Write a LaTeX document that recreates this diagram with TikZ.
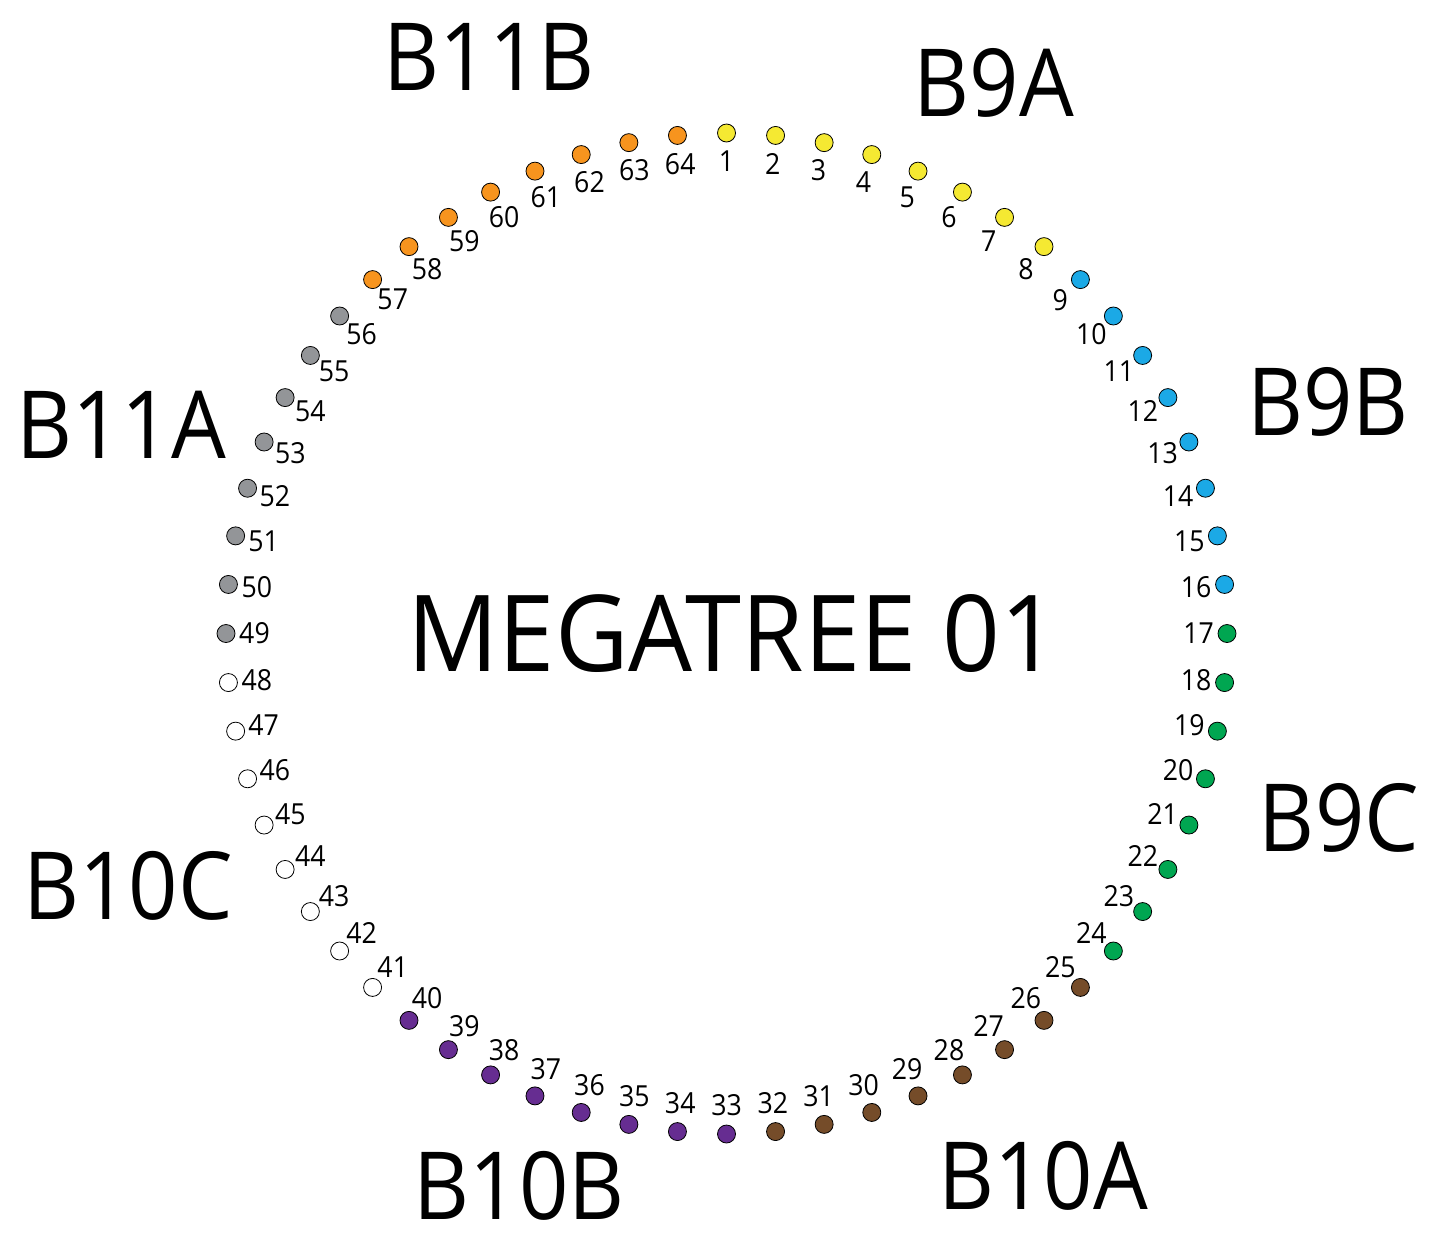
\documentclass[tikz,border=0pt]{standalone}
\usepackage{fontspec}
\setmainfont{Open Sans}
\usepackage{graphicx}
\definecolor{g0}{HTML}{F5E932}
\definecolor{g1}{HTML}{1BA9E6}
\definecolor{g2}{HTML}{00A651}
\definecolor{g3}{HTML}{754C29}
\definecolor{g4}{HTML}{662D91}
\definecolor{g5}{HTML}{FFFFFF}
\definecolor{g6}{HTML}{939598}
\definecolor{g7}{HTML}{F7941E}
\begin{document}
\begin{tikzpicture}[x=1pt,y=-1pt,
  dot/.style={circle,draw=black,line width=0.8pt,minimum size=18pt,inner sep=0pt},
  num/.style={font=\fontsize{29}{30}\selectfont,inner sep=0pt},
  big/.style={font=\fontsize{94}{100}\selectfont,inner sep=0pt}]
\useasboundingbox (0,0) rectangle (1442,1248);
\fill[white] (0,0) rectangle (1442,1248);
\coordinate (c) at (726.5,633.5);
\foreach \i in {1,...,64} {
  \pgfmathsetmacro\ang{-90+(\i-1)*5.625}
  \pgfmathtruncatemacro\g{(\i-1)/8}
  \node[dot, fill=g\g] (d\i) at ([shift={(\ang:500.5)}]c) {};
  \node[num] (n\i) at ([shift={(\ang:472)}]c) {\scalebox{0.92}[1]{\i}};
}
\node[inner sep=0pt] (title) at (733,633.5) {\resizebox{650pt}{77pt}{MEGATREE 01}};
\node[big] (b11b) at (489,57) {\scalebox{0.92}[1]{B11B}};
\node[big] (b9a) at (994,83) {\scalebox{0.92}[1]{B9A}};
\node[big] (b9b) at (1328,402) {\scalebox{0.92}[1]{B9B}};
\node[big] (b9c) at (1339,818) {\scalebox{0.92}[1]{B9C}};
\node[big] (b10a) at (1043,1176) {\scalebox{0.92}[1]{B10A}};
\node[big] (b10b) at (519,1186) {\scalebox{0.92}[1]{B10B}};
\node[big] (b10c) at (128,886) {\scalebox{0.92}[1]{B10C}};
\node[big] (b11a) at (121,425) {\scalebox{0.92}[1]{B11A}};
\end{tikzpicture}
\end{document}
